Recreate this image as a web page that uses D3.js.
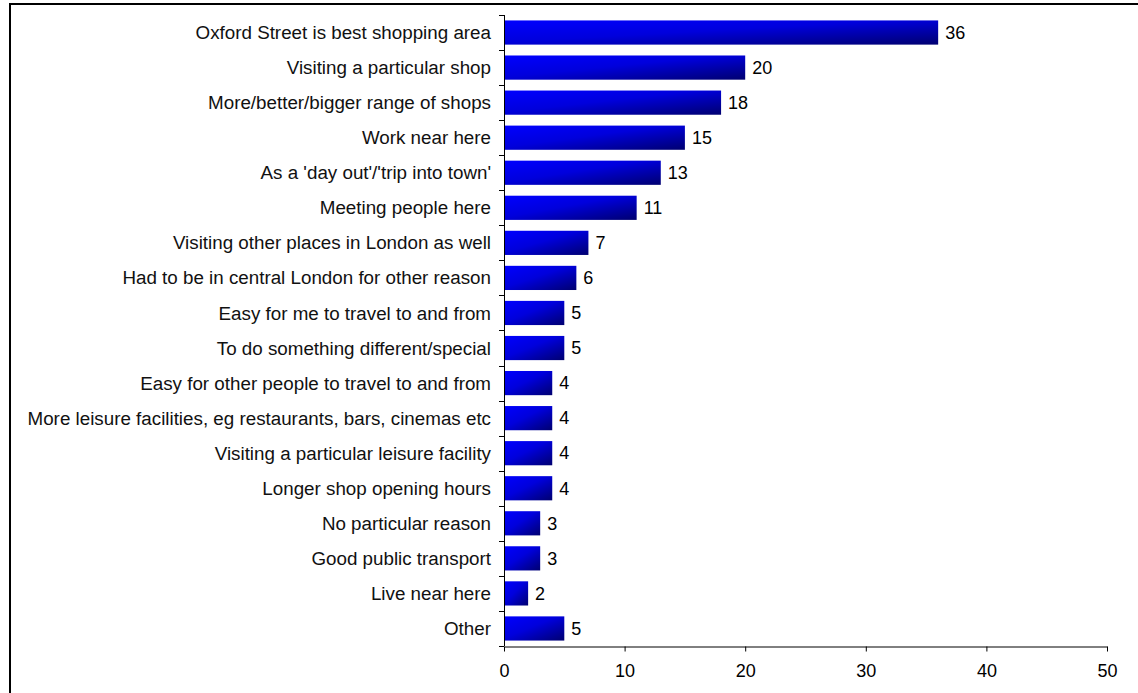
<!DOCTYPE html>
<html>
<head>
<meta charset="utf-8">
<script src="https://cdn.jsdelivr.net/npm/d3@7"></script>
<style>
  body { margin: 0; background: #fff; overflow: hidden; }
  svg { display: block; font-family: "Liberation Sans", Arial, sans-serif; }
</style>
</head>
<body>
<svg id="chart"></svg>
<script>
// reasons, top to bottom
var categories = [
    "Oxford Street is best shopping area",
    "Visiting a particular shop",
    "More/better/bigger range of shops",
    "Work near here",
    "As a 'day out'/'trip into town'",
    "Meeting people here",
    "Visiting other places in London as well",
    "Had to be in central London for other reason",
    "Easy for me to travel to and from",
    "To do something different/special",
    "Easy for other people to travel to and from",
    "More leisure facilities, eg restaurants, bars, cinemas etc",
    "Visiting a particular leisure facility",
    "Longer shop opening hours",
    "No particular reason",
    "Good public transport",
    "Live near here",
    "Other"
];
var values = [36, 20, 18, 15, 13, 11, 7, 6, 5, 5, 4, 4, 4, 4, 3, 3, 2, 5];
var xTicks = [0, 10, 20, 30, 40, 50];
var title = "Figure 5: Why are you visiting Oxford Street today rather than other shopping areas?";

var width = 1138,
    height = 693;

var svg = d3.select("#chart")
    .attr("width", width)
    .attr("height", height);

var defs = svg.append("defs");
var grad = defs.append("linearGradient")
    .attr("id", "barfill")
    .attr("x1", 0).attr("y1", 0)
    .attr("x2", 1).attr("y2", 1);
grad.append("stop").attr("offset", "0%").attr("stop-color", "#0000ff");
grad.append("stop").attr("offset", "45%").attr("stop-color", "#0000dc");
grad.append("stop").attr("offset", "100%").attr("stop-color", "#000070");

// title, mostly cut off by the top of the page (as in the source)
svg.append("text")
    .attr("x", 18)
    .attr("y", -3.5)
    .attr("font-size", 17)
    .attr("font-weight", "bold")
    .text(title);

// outer frame (runs off right and bottom)
svg.append("rect")
    .attr("x", 10)
    .attr("y", 4)
    .attr("width", 1200)
    .attr("height", 800)
    .attr("fill", "none")
    .attr("stroke", "#000")
    .attr("stroke-width", 2);

var x = d3.scaleLinear()
    .domain([0, 50])
    .range([504, 1107]);

var y = d3.scaleBand()
    .domain(categories)
    .range([15, 646])
    .paddingInner(0.31)
    .paddingOuter(0.155);

var step = y.step();

// bars
svg.append("g")
    .selectAll("rect")
    .data(values)
    .enter().append("rect")
    .attr("x", x(0))
    .attr("y", function (d, i) { return y(categories[i]); })
    .attr("width", function (d) { return x(d) - x(0); })
    .attr("height", y.bandwidth())
    .attr("fill", "url(#barfill)");

// value labels
svg.append("g")
    .selectAll("text")
    .data(values)
    .enter().append("text")
    .attr("x", function (d) { return x(d) + 7; })
    .attr("y", function (d, i) { return y(categories[i]) + y.bandwidth() / 2; })
    .attr("dy", "0.35em")
    .attr("font-size", 18)
    .attr("fill", "#000")
    .text(function (d) { return d; });

// y axis: line, boundary ticks, labels
var yAxis = svg.append("g");
yAxis.append("line")
    .attr("x1", x(0) + 0.5).attr("x2", x(0) + 0.5)
    .attr("y1", 15).attr("y2", 646)
    .attr("stroke", "#000");
var bounds = categories.map(function (c) { return y(c) - step * 0.155; });
bounds.push(646);
yAxis.selectAll(".tk")
    .data(bounds)
    .enter().append("line")
    .attr("x1", x(0) - 5).attr("x2", x(0))
    .attr("y1", function (d) { return Math.round(d) + 0.5; })
    .attr("y2", function (d) { return Math.round(d) + 0.5; })
    .attr("stroke", "#000");
yAxis.selectAll("text")
    .data(categories)
    .enter().append("text")
    .attr("x", 491)
    .attr("y", function (d) { return y(d) + y.bandwidth() / 2; })
    .attr("dy", "0.35em")
    .attr("text-anchor", "end")
    .attr("font-size", 18.8)
    .attr("fill", "#111")
    .text(function (d) { return d; });

// x axis
var xAxis = d3.axisBottom(x)
    .tickValues(xTicks)
    .tickSizeInner(5)
    .tickSizeOuter(0)
    .tickPadding(13);

var gx = svg.append("g")
    .attr("transform", "translate(0,646.5)")
    .call(xAxis);
gx.select(".domain").attr("stroke", "#000");
gx.selectAll(".tick line").attr("stroke", "#000");
gx.selectAll(".tick text")
    .attr("font-size", 18)
    .attr("font-family", "\"Liberation Sans\", Arial, sans-serif")
    .attr("fill", "#000");
</script>
</body>
</html>
